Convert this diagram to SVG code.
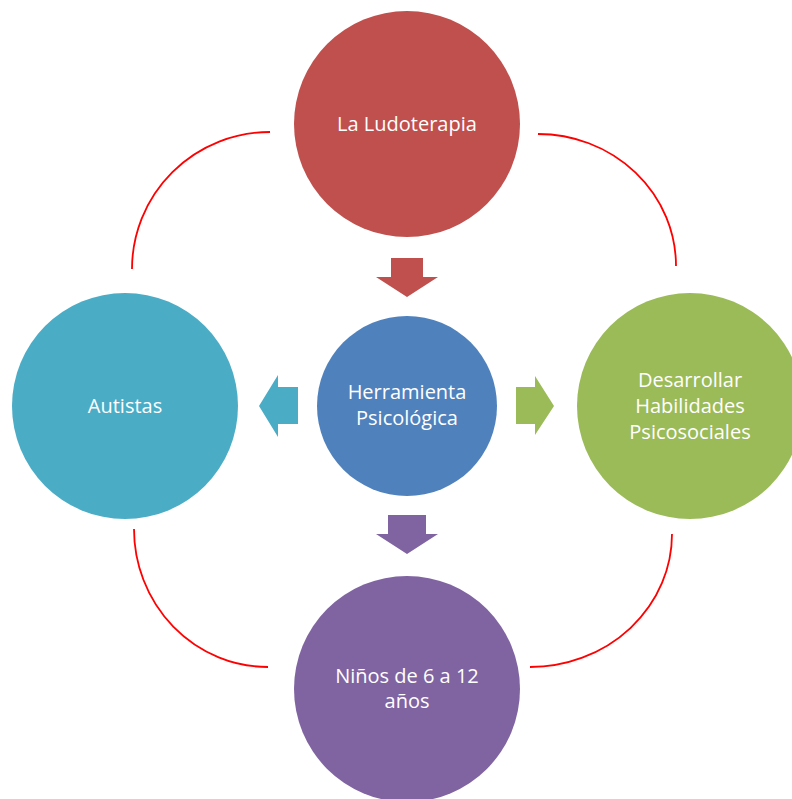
<svg xmlns="http://www.w3.org/2000/svg" width="792" height="799" viewBox="0 0 792 799">
<style>
.lbl{font-family:"Open Sans","Noto Sans","Liberation Sans",sans-serif;font-size:20px;fill:#ffffff;text-anchor:middle}
.arc{fill:none;stroke:#FF0000;stroke-width:1.8}
</style>
<rect width="792" height="799" fill="#ffffff"/>
<g id="connectors">
<path class="arc" d="M270,132 A138,137 0 0 0 132,269"/>
<path class="arc" d="M538,134 A138,132 0 0 1 676,266"/>
<path class="arc" d="M134,529 A134,138 0 0 0 268,667"/>
<path class="arc" d="M672,534 A142,133 0 0 1 530,667"/>
<polygon fill="#C0504D" points="391,258 423,258 423,277 438,277 407,297 376,277 391,277"/>
<polygon fill="#4BACC6" points="298,387 298,424 278,424 278,437 259,406 278,375 278,387"/>
<polygon fill="#9BBB59" points="516,387 535,387 535,376 554,406 535,435 535,424 516,424"/>
<polygon fill="#8064A2" points="388,515 426,515 426,534 438,534 407,554 376,534 388,534"/>
</g>
<g id="node-ludoterapia">
<circle cx="407" cy="124" r="113" fill="#C0504D"/>
<text class="lbl" x="407" y="131">La Ludoterapia</text>
</g>
<g id="node-herramienta">
<circle cx="407" cy="406" r="90" fill="#4F81BD"/>
<text class="lbl" x="407" y="399">Herramienta</text>
<text class="lbl" x="407" y="425">Psicológica</text>
</g>
<g id="node-autistas">
<circle cx="125" cy="406" r="113" fill="#4BACC6"/>
<text class="lbl" x="125" y="413">Autistas</text>
</g>
<g id="node-habilidades">
<circle cx="690" cy="406" r="113" fill="#9BBB59"/>
<text class="lbl" x="690" y="387">Desarrollar</text>
<text class="lbl" x="690" y="413">Habilidades</text>
<text class="lbl" x="690" y="439">Psicosociales</text>
</g>
<g id="node-ninos">
<circle cx="407" cy="689" r="113" fill="#8064A2"/>
<text class="lbl" x="407" y="683">Niños de 6 a 12</text>
<text class="lbl" x="407" y="708">años</text>
</g>
</svg>
